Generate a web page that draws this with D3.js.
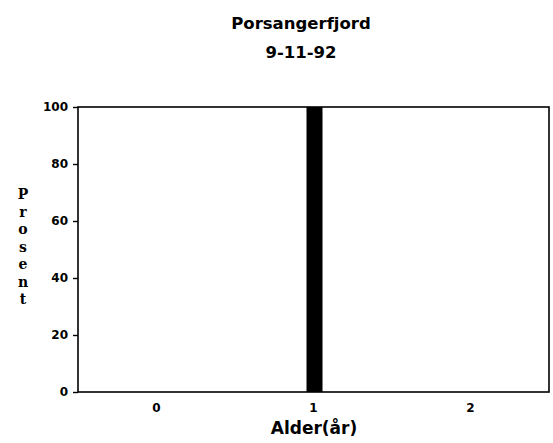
<!DOCTYPE html>
<html>
<head>
<meta charset="utf-8">
<script src="https://cdn.jsdelivr.net/npm/d3@7"></script>
<style>
  body { margin: 0; background: #fff; }
  svg text { fill: #000; }
</style>
</head>
<body>
<div id="chart"></div>
<script>
// data
const ages = ["0", "1", "2"];
const percent = [0, 100, 0];
const yTicks = [0, 20, 40, 60, 80, 100];
const titleLines = ["Porsangerfjord", "9-11-92"];
const yTitle = "Prosent";
const xTitle = "Alder(år)";

const W = 553, H = 443;
const margin = { top: 107, right: 4, bottom: 51, left: 78 };
const iw = W - margin.left - margin.right;
const ih = H - margin.top - margin.bottom;

const svg = d3.select("#chart").append("svg")
    .attr("width", W)
    .attr("height", H);

// titel
svg.append("text")
    .attr("text-anchor", "middle")
    .style("font-family", "DejaVu Sans")
    .style("font-weight", "bold")
    .style("font-size", "16.5px")
    .selectAll("tspan")
    .data(titleLines)
    .enter()
    .append("tspan")
    .attr("x", 301)
    .attr("y", (d, i) => 29 + i * 29)
    .text(d => d);

const g = svg.append("g")
    .attr("transform", `translate(${margin.left},${margin.top})`);

const x = d3.scaleBand().domain(ages).range([0, iw]).padding(0);
const y = d3.scaleLinear().domain([0, 100]).range([ih, 0]);

// søyler
const barW = 16;
g.selectAll("rect.bar")
    .data(ages.map((a, i) => ({ age: a, v: percent[i] })))
    .enter()
    .append("rect")
    .attr("class", "bar")
    .attr("x", d => x(d.age) + x.bandwidth() / 2 - barW / 2 + 1)
    .attr("y", d => y(d.v))
    .attr("width", barW)
    .attr("height", d => ih - y(d.v))
    .attr("fill", "#000");

// ramme
g.append("rect")
    .attr("width", iw)
    .attr("height", ih)
    .attr("fill", "none")
    .attr("stroke", "#000")
    .attr("stroke-width", 1.6);

// y-akse
const yAxis = g.append("g")
    .call(d3.axisLeft(y).tickValues(yTicks).tickSize(5).tickPadding(5));
yAxis.select(".domain").remove();
yAxis.selectAll("line").attr("stroke-width", 1.4);
yAxis.selectAll("text")
    .style("font-family", "DejaVu Sans")
    .style("font-weight", "bold")
    .style("font-size", "12px");

// x-akse
const xAxis = g.append("g")
    .attr("transform", `translate(0,${ih})`)
    .call(d3.axisBottom(x).tickSize(0).tickPadding(11));
xAxis.select(".domain").remove();
xAxis.selectAll("text")
    .style("font-family", "DejaVu Sans")
    .style("font-weight", "bold")
    .style("font-size", "12px");

// aksetitler
svg.append("text")
    .attr("x", 314)
    .attr("y", 434)
    .attr("text-anchor", "middle")
    .style("font-family", "DejaVu Sans")
    .style("font-weight", "bold")
    .style("font-size", "17px")
    .text(xTitle);

svg.append("text")
    .attr("text-anchor", "middle")
    .style("font-family", "DejaVu Serif")
    .style("font-weight", "bold")
    .style("font-size", "14px")
    .selectAll("tspan")
    .data(yTitle.split(""))
    .enter()
    .append("tspan")
    .attr("x", 23)
    .attr("y", (d, i) => 199 + i * 17.5)
    .text(d => d);
</script>
</body>
</html>
